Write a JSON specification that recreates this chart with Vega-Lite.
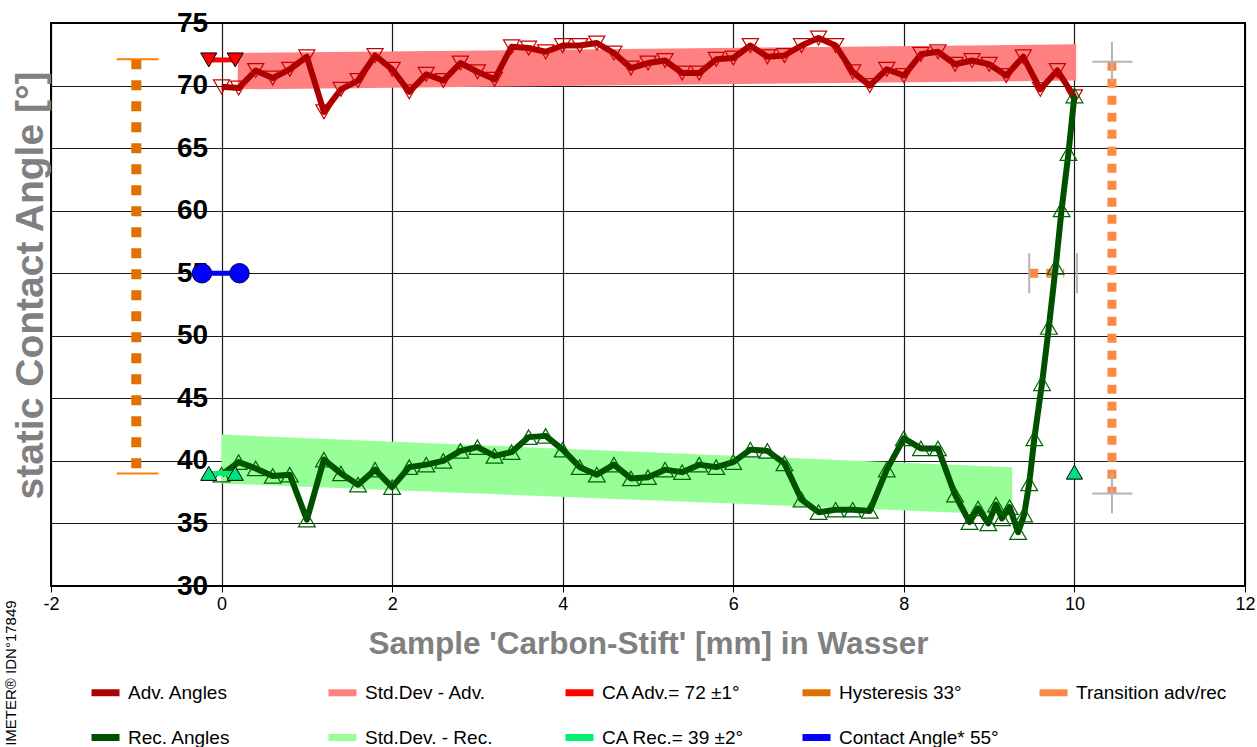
{
  "$schema": "https://vega.github.io/schema/vega-lite/v6.json",
  "width": 1194,
  "height": 563,
  "autosize": {"type": "none"},
  "padding": {"left": 51, "top": 23, "right": 12, "bottom": 161},
  "background": "white",
  "config": {
    "font": "Liberation Sans",
    "view": {"stroke": "#000", "strokeWidth": 2}
  },
  "datasets": {
    "adv": [
      {"x":0,"y":69.9},{"x":0.2,"y":69.8},{"x":0.4,"y":71.2},{"x":0.6,"y":70.6},{"x":0.8,"y":71.3},
      {"x":1.0,"y":72.3},{"x":1.2,"y":67.9},{"x":1.4,"y":69.7},{"x":1.6,"y":70.4},{"x":1.8,"y":72.4},
      {"x":2.0,"y":71.3},{"x":2.2,"y":69.5},{"x":2.4,"y":70.9},{"x":2.6,"y":70.4},{"x":2.8,"y":71.8},
      {"x":3.0,"y":71.1},{"x":3.2,"y":70.5},{"x":3.4,"y":73.1},{"x":3.6,"y":73.0},{"x":3.8,"y":72.7},
      {"x":4.0,"y":73.2},{"x":4.2,"y":73.2},{"x":4.4,"y":73.4},{"x":4.6,"y":72.6},{"x":4.8,"y":71.4},
      {"x":5.0,"y":71.8},{"x":5.2,"y":72.0},{"x":5.4,"y":71.0},{"x":5.6,"y":71.0},{"x":5.8,"y":72.1},
      {"x":6.0,"y":72.2},{"x":6.2,"y":73.2},{"x":6.4,"y":72.3},{"x":6.6,"y":72.4},{"x":6.8,"y":73.2},
      {"x":7.0,"y":73.8},{"x":7.2,"y":73.2},{"x":7.4,"y":71.1},{"x":7.6,"y":70.0},{"x":7.8,"y":71.3},
      {"x":8.0,"y":70.8},{"x":8.2,"y":72.5},{"x":8.4,"y":72.7},{"x":8.6,"y":71.7},{"x":8.8,"y":72.0},
      {"x":9.0,"y":71.7},{"x":9.2,"y":70.8},{"x":9.4,"y":72.3},{"x":9.6,"y":69.7},{"x":9.8,"y":71.2},
      {"x":10.0,"y":69.1}
    ],
    "rec": [
      {"x":0,"y":38.9},{"x":0.2,"y":39.9},{"x":0.4,"y":39.4},{"x":0.6,"y":38.8},{"x":0.8,"y":38.9},
      {"x":1.0,"y":35.3},{"x":1.2,"y":40.1},{"x":1.4,"y":39.0},{"x":1.6,"y":38.1},{"x":1.8,"y":39.3},
      {"x":2.0,"y":37.9},{"x":2.2,"y":39.5},{"x":2.4,"y":39.7},{"x":2.6,"y":40.0},{"x":2.8,"y":40.8},
      {"x":3.0,"y":41.1},{"x":3.2,"y":40.4},{"x":3.4,"y":40.7},{"x":3.6,"y":41.9},{"x":3.8,"y":42.0},
      {"x":4.0,"y":40.9},{"x":4.2,"y":39.5},{"x":4.4,"y":38.9},{"x":4.6,"y":39.7},{"x":4.8,"y":38.6},
      {"x":5.0,"y":38.7},{"x":5.2,"y":39.3},{"x":5.4,"y":39.1},{"x":5.6,"y":39.7},{"x":5.8,"y":39.5},
      {"x":6.0,"y":39.9},{"x":6.2,"y":40.9},{"x":6.4,"y":40.8},{"x":6.6,"y":39.8},{"x":6.8,"y":36.9},
      {"x":7.0,"y":35.9},{"x":7.2,"y":36.1},{"x":7.4,"y":36.1},{"x":7.6,"y":36.0},{"x":7.8,"y":39.3},
      {"x":8.0,"y":41.8},{"x":8.2,"y":41.0},{"x":8.4,"y":41.0},{"x":8.6,"y":37.3},{"x":8.77,"y":35.1},
      {"x":8.87,"y":36.2},{"x":8.99,"y":35.0},{"x":9.08,"y":36.5},{"x":9.15,"y":35.4},{"x":9.24,"y":36.3},
      {"x":9.34,"y":34.3},{"x":9.41,"y":35.7},{"x":9.47,"y":38.2},{"x":9.53,"y":41.8},{"x":9.62,"y":46.2},
      {"x":9.70,"y":50.7},{"x":9.78,"y":55.5},{"x":9.85,"y":60.1},{"x":9.93,"y":64.6},{"x":10.0,"y":69.2}
    ],
    "bands": [
      {"x":0.19,"lo":69.7,"hi":72.6,"s":"Std.Dev - Adv."},
      {"x":10.02,"lo":70.4,"hi":73.3,"s":"Std.Dev - Adv."},
      {"x":0.0,"lo":38.2,"hi":42.1,"s":"Std.Dev. - Rec."},
      {"x":9.27,"lo":35.7,"hi":39.5,"s":"Std.Dev. - Rec."}
    ],
    "guides": [
      {"x":-1,"y":72.1,"seg":"h","s":"Hysteresis 33°"},
      {"x":-1,"y":39.0,"seg":"h","s":"Hysteresis 33°"},
      {"x":10.44,"y":71.9,"seg":"tv","s":"Transition adv/rec"},
      {"x":10.44,"y":37.4,"seg":"tv","s":"Transition adv/rec"},
      {"x":9.47,"y":55,"seg":"th","s":"Transition adv/rec"},
      {"x":9.88,"y":55,"seg":"th","s":"Transition adv/rec"}
    ],
    "rules": [
      {"x1":-1.23,"x2":-0.74,"y1":72.1,"y2":72.1,"k":"cap"},
      {"x1":-1.23,"x2":-0.74,"y1":39.0,"y2":39.0,"k":"cap"},
      {"x1":10.21,"x2":10.68,"y1":71.9,"y2":71.9,"k":"err"},
      {"x1":10.44,"x2":10.44,"y1":70.3,"y2":73.5,"k":"err"},
      {"x1":10.21,"x2":10.68,"y1":37.4,"y2":37.4,"k":"err"},
      {"x1":10.44,"x2":10.44,"y1":35.8,"y2":39.0,"k":"err"},
      {"x1":9.47,"x2":9.47,"y1":53.4,"y2":56.6,"k":"err"},
      {"x1":10.03,"x2":10.03,"y1":53.4,"y2":56.6,"k":"err"}
    ],
    "ca": [
      {"x":-0.15,"y":72.05,"seg":"a","s":"CA Adv.= 72 ±1°"},
      {"x":0.16,"y":72.05,"seg":"a","s":"CA Adv.= 72 ±1°"},
      {"x":-0.15,"y":39.0,"seg":"r1","s":"CA Rec.= 39 ±2°"},
      {"x":0.16,"y":39.0,"seg":"r1","s":"CA Rec.= 39 ±2°"},
      {"x":10.0,"y":39.1,"seg":"r2","s":"CA Rec.= 39 ±2°"},
      {"x":-0.23,"y":55.0,"seg":"c","s":"Contact Angle* 55°"},
      {"x":0.21,"y":55.0,"seg":"c","s":"Contact Angle* 55°"}
    ],
    "note": [{"x":-2.474,"y":28.85,"t":"IMETER® IDN°17849"}]
  },
  "encoding": {
    "x": {
      "type": "quantitative",
      "scale": {"domain": [-2, 12], "nice": false, "zero": false},
      "axis": {
        "values": [-2, 0, 2, 4, 6, 8, 10, 12],
        "labelExpr": "toString(datum.value)",
        "title": "Sample 'Carbon-Stift' [mm] in Wasser",
        "titleFontSize": 31.5, "titleFontWeight": "bold", "titleColor": "#808080", "titlePadding": 15,
        "labelFontSize": 18, "labelColor": "#000", "labelFlush": false, "labelOverlap": false, "labelPadding": 3,
        "grid": true, "gridColor": "#000", "gridWidth": 1.2, "gridOpacity": 0.9,
        "domain": false, "tickColor": "#000", "tickSize": 6
      }
    },
    "y": {
      "type": "quantitative",
      "scale": {"domain": [30, 75], "nice": false, "zero": false},
      "axis": {
        "values": [30, 35, 40, 45, 50, 55, 60, 65, 70, 75],
        "offset": -170.57,
        "title": "static Contact Angle [°]",
        "titleFontSize": 39, "titleFontWeight": "bold", "titleColor": "#808080",
        "titleX": -191, "titleY": 262, "titleAngle": 270, "titleBaseline": "middle", "titleAlign": "center",
        "labelFontSize": 28, "labelFontWeight": "bold", "labelColor": "#000", "labelPadding": 14,
        "labelOverlap": false, "labelFlush": false,
        "grid": true, "gridColor": "#000", "gridWidth": 1.2, "gridOpacity": 0.9,
        "domain": false, "ticks": false
      }
    }
  },
  "layer": [
    {
      "data": {"name": "bands"},
      "mark": {"type": "area", "opacity": 1},
      "encoding": {
        "x": {"field": "x", "type": "quantitative"},
        "y": {"field": "lo", "type": "quantitative"},
        "y2": {"field": "hi"},
        "color": {
          "field": "s", "type": "nominal",
          "scale": {
            "domain": ["Adv. Angles", "Std.Dev - Adv.", "CA Adv.= 72 ±1°", "Hysteresis 33°", "Transition adv/rec", "Rec. Angles", "Std.Dev. - Rec.", "CA Rec.= 39 ±2°", "Contact Angle* 55°"],
            "range": ["#AA0000", "#FF8080", "#FF0000", "#E07000", "#FF8844", "#005000", "#98FF98", "#00F070", "#0000FF"]
          },
          "legend": {
            "orient": "none", "legendX": 37, "legendY": 652,
            "direction": "horizontal", "columns": 5, "title": null,
            "symbolType": "stroke", "symbolSize": 784, "symbolStrokeWidth": 7,
            "labelFontSize": 19, "labelColor": "#000", "labelOffset": 5, "labelLimit": 400,
            "columnPadding": 25, "rowPadding": 13, "gridAlign": "all", "padding": 0,
            "encode": {
              "symbols": {
                "update": {
                  "stroke": {"scale": "color", "field": "value"},
                  "fill": {"value": "transparent"},
                  "opacity": {"value": 1},
                  "strokeWidth": {"value": 7},
                  "strokeDash": {"signal": "(datum.value === 'Hysteresis 33°' || datum.value === 'Transition adv/rec') ? [5, 3] : [1, 0]"}
                }
              }
            }
          }
        }
      }
    },
    {
      "data": {"name": "guides"},
      "transform": [{"filter": "datum.seg === 'h'"}],
      "mark": {"type": "line", "strokeWidth": 10, "strokeDash": [10, 11], "strokeCap": "butt"},
      "encoding": {
        "x": {"field": "x", "type": "quantitative"},
        "y": {"field": "y", "type": "quantitative"},
        "color": {"field": "s", "type": "nominal"},
        "detail": {"field": "seg"}
      }
    },
    {
      "data": {"name": "rules"},
      "transform": [{"filter": "datum.k === 'cap'"}],
      "mark": {"type": "rule", "color": "#FF8000", "strokeWidth": 2},
      "encoding": {
        "x": {"field": "x1", "type": "quantitative"},
        "x2": {"field": "x2"},
        "y": {"field": "y1", "type": "quantitative"},
        "y2": {"field": "y2"}
      }
    },
    {
      "data": {"name": "guides"},
      "transform": [{"filter": "datum.seg !== 'h'"}],
      "mark": {"type": "line", "strokeWidth": 9, "strokeDash": [9, 8], "strokeCap": "butt"},
      "encoding": {
        "x": {"field": "x", "type": "quantitative"},
        "y": {"field": "y", "type": "quantitative"},
        "color": {"field": "s", "type": "nominal"},
        "detail": {"field": "seg"}
      }
    },
    {
      "data": {"name": "rules"},
      "transform": [{"filter": "datum.k === 'err'"}],
      "mark": {"type": "rule", "color": "#B4B4B4", "strokeWidth": 2},
      "encoding": {
        "x": {"field": "x1", "type": "quantitative"},
        "x2": {"field": "x2"},
        "y": {"field": "y1", "type": "quantitative"},
        "y2": {"field": "y2"}
      }
    },
    {
      "data": {"name": "adv"},
      "transform": [{"calculate": "'Adv. Angles'", "as": "s"}],
      "mark": {"type": "line", "strokeWidth": 6, "strokeJoin": "round"},
      "encoding": {
        "x": {"field": "x", "type": "quantitative"},
        "y": {"field": "y", "type": "quantitative"},
        "color": {"field": "s", "type": "nominal"}
      }
    },
    {
      "data": {"name": "adv"},
      "mark": {"type": "point", "shape": "triangle-down", "filled": false, "color": "#C80000", "strokeWidth": 1.2, "size": 260, "opacity": 1},
      "encoding": {
        "x": {"field": "x", "type": "quantitative"},
        "y": {"field": "y", "type": "quantitative"}
      }
    },
    {
      "data": {"name": "rec"},
      "transform": [{"calculate": "'Rec. Angles'", "as": "s"}],
      "mark": {"type": "line", "strokeWidth": 6, "strokeJoin": "round"},
      "encoding": {
        "x": {"field": "x", "type": "quantitative"},
        "y": {"field": "y", "type": "quantitative"},
        "color": {"field": "s", "type": "nominal"}
      }
    },
    {
      "data": {"name": "rec"},
      "mark": {"type": "point", "shape": "triangle-up", "filled": false, "color": "#006400", "strokeWidth": 1.2, "size": 280, "opacity": 1},
      "encoding": {
        "x": {"field": "x", "type": "quantitative"},
        "y": {"field": "y", "type": "quantitative"}
      }
    },
    {
      "data": {"name": "ca"},
      "mark": {"type": "line", "strokeWidth": 5},
      "encoding": {
        "x": {"field": "x", "type": "quantitative"},
        "y": {"field": "y", "type": "quantitative"},
        "color": {"field": "s", "type": "nominal"},
        "detail": {"field": "seg"}
      }
    },
    {
      "data": {"name": "ca"},
      "transform": [{"filter": "datum.seg === 'a'"}],
      "mark": {"type": "point", "shape": "triangle-down", "filled": true, "fill": "#FF0000", "stroke": "#000", "strokeWidth": 1, "size": 260, "opacity": 1},
      "encoding": {
        "x": {"field": "x", "type": "quantitative"},
        "y": {"field": "y", "type": "quantitative"}
      }
    },
    {
      "data": {"name": "ca"},
      "transform": [{"filter": "datum.seg === 'r1' || datum.seg === 'r2'"}],
      "mark": {"type": "point", "shape": "triangle-up", "filled": true, "fill": "#00E080", "stroke": "#000", "strokeWidth": 1, "size": 260, "opacity": 1},
      "encoding": {
        "x": {"field": "x", "type": "quantitative"},
        "y": {"field": "y", "type": "quantitative"}
      }
    },
    {
      "data": {"name": "ca"},
      "transform": [{"filter": "datum.seg === 'c'"}],
      "mark": {"type": "point", "shape": "circle", "filled": true, "fill": "#0000FF", "stroke": "#000040", "strokeWidth": 1, "size": 380, "opacity": 1},
      "encoding": {
        "x": {"field": "x", "type": "quantitative"},
        "y": {"field": "y", "type": "quantitative"}
      }
    },
    {
      "data": {"name": "note"},
      "mark": {"type": "text", "angle": 270, "align": "right", "baseline": "middle", "fontSize": 15, "color": "#000"},
      "encoding": {
        "x": {"field": "x", "type": "quantitative"},
        "y": {"field": "y", "type": "quantitative"},
        "text": {"field": "t"}
      }
    }
  ]
}
